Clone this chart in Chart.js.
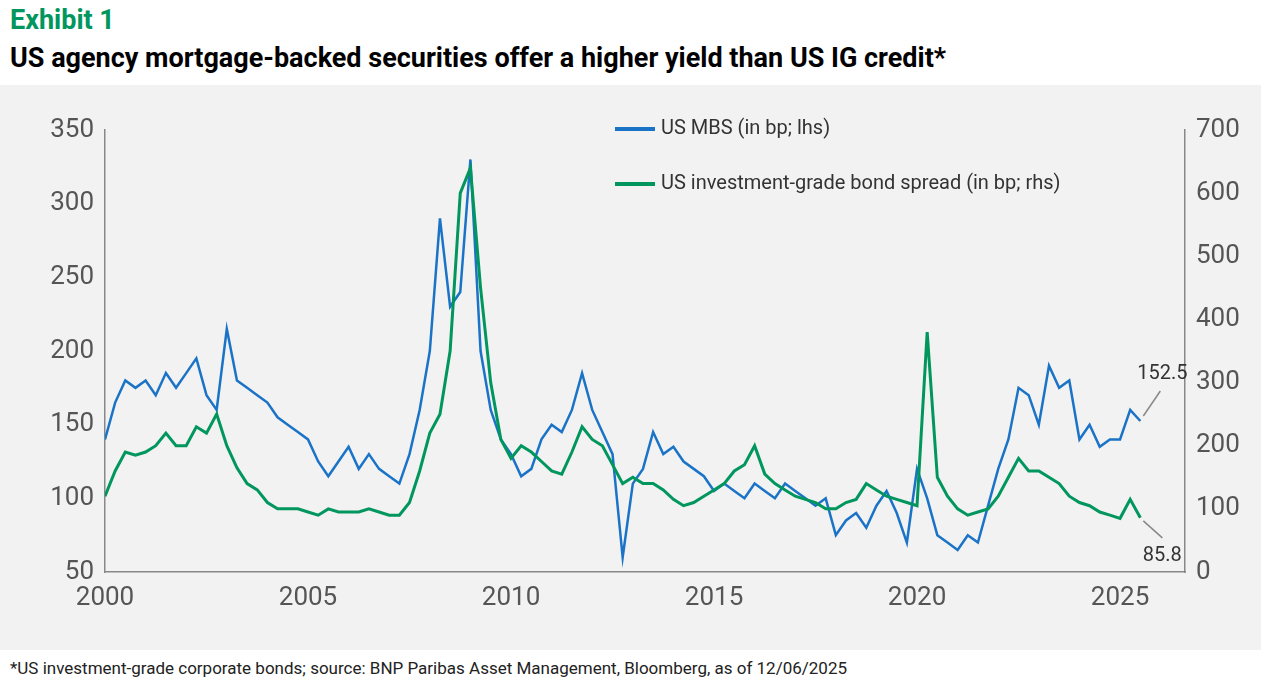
<!DOCTYPE html>
<html><head><meta charset="utf-8">
<script src="https://cdn.jsdelivr.net/npm/chart.js@4/dist/chart.umd.min.js"></script>
<style>
body{margin:0;width:1261px;height:685px;background:#fff;font-family:Roboto,"Noto Sans",sans-serif;position:relative;overflow:hidden}
#t1{position:absolute;left:10px;top:4px;font-size:27px;font-weight:bold;color:#00965e}
#t2{position:absolute;left:10px;top:42px;font-size:27px;font-weight:bold;color:#000}
#box{position:absolute;left:0;top:85px;width:1261px;height:565px;background:#f2f2f2}
#foot{position:absolute;left:10px;top:658px;font-size:17px;color:#222}
</style></head><body>
<div id="t1">Exhibit 1</div>
<div id="t2">US agency mortgage-backed securities offer a higher yield than US IG credit*</div>
<div id="box"><canvas id="c" width="1261" height="565"></canvas></div>
<div id="foot">*US investment-grade corporate bonds; source: BNP Paribas Asset Management, Bloomberg, as of 12/06/2025</div>
<script>
const startYear = 2000;
const step = 0.25;
const mbs = [140,165,180,175, 180,170,185,175, 185,195,170,160, 215,180,175,170, 165,155,150,145,
  140,125,115,125, 135,120,130,120, 115,110,130,160, 200,290,230,240, 330,200,160,140,
  130,115,120,140, 150,145,160,185, 160,145,130,60, 110,120,145,130, 135,125,120,115,
  105,110,105,100, 110,105,100,110, 105,100,95,100, 75,85,90,80, 95,105,90,70,
  120,100,75,70, 65,75,70,95, 120,140,175,170, 150,190,175,180, 140,150,135,140,
  140,160,152.5];
const igSpread = [120,160,190,185, 190,200,220,200, 200,230,220,250, 200,165,140,130, 110,100,100,100,
  95,90,100,95, 95,95,100,95, 90,90,110,160, 220,250,350,600, 640,450,300,210,
  180,200,190,175, 160,155,190,230, 210,200,170,140, 150,140,140,130, 115,105,110,120,
  130,140,160,170, 200,155,140,130, 120,115,110,100, 100,110,115,140, 130,120,115,110,
  105,380,150,120, 100,90,95,100, 120,150,180,160, 160,150,140,120, 110,105,95,90,
  85,115,85.8];
const xTicks = [2000,2005,2010,2015,2020,2025];
const seriesNames = ['US MBS (in bp; lhs)','US investment-grade bond spread (in bp; rhs)'];
const colors = ['#1a73c6','#00965e'];

const toPts = arr => arr.map((v,i) => ({x: startYear + i*step, y: v}));
const tickFont = {family:'Roboto', size:26};

const overlay = {
  id:'overlay',
  afterDraw(chart){
    const c = chart.ctx, xs = chart.scales.x;
    c.save();
    // legend
    c.font = '20px Roboto'; c.textBaseline = 'middle';
    [[625,44],[625,99]].forEach((p,i)=>{
      c.strokeStyle = colors[i]; c.lineWidth = 4;
      c.beginPath(); c.moveTo(p[0]-10,p[1]); c.lineTo(p[0]+30,p[1]); c.stroke();
      c.fillStyle = '#333'; c.fillText(seriesNames[i], p[0]+36, p[1]);
    });
    // end labels
    const lx = xs.getPixelForValue(startYear + (mbs.length-1)*step);
    const y1 = chart.scales.y.getPixelForValue(mbs[mbs.length-1]);
    const y2 = chart.scales.y1.getPixelForValue(igSpread[igSpread.length-1]);
    c.strokeStyle = '#888'; c.lineWidth = 1.5;
    c.beginPath(); c.moveTo(lx+3,y1-5); c.lineTo(lx+20,y1-30); c.stroke();
    c.beginPath(); c.moveTo(lx+3,y2+3); c.lineTo(lx+22,y2+20); c.stroke();
    c.fillStyle = '#333'; c.font = '20px Roboto'; c.textAlign = 'center';
    c.fillText(mbs[mbs.length-1].toFixed(1), lx+22, y1-47);
    c.fillText(igSpread[igSpread.length-1].toFixed(1), lx+22, y2+38);
    c.restore();
  }
};

new Chart(document.getElementById('c'), {
  type:'line',
  data:{datasets:[
    {data:toPts(igSpread), yAxisID:'y1', borderColor:colors[1], borderWidth:3, pointRadius:0, tension:0},
    {data:toPts(mbs), yAxisID:'y', borderColor:colors[0], borderWidth:2.5, pointRadius:0, tension:0}
  ]},
  options:{
    responsive:false, animation:false,
    layout:{autoPadding:false, padding:{top:45,bottom:0,left:0,right:0}},
    plugins:{legend:{display:false}, tooltip:{enabled:false}},
    scales:{
      x:{type:'linear', min:2000, max:2026.6,
        afterBuildTicks: s => { s.ticks = xTicks.map(v=>({value:v})); },
        afterFit: s => { s.height = 78; },
        grid:{display:false, drawTicks:true, tickLength:8, color:'#888'},
        border:{color:'#888', width:1.5},
        ticks:{font:tickFont, color:'#555', callback:v=>v, maxRotation:0}},
      y:{min:50, max:350, position:'left',
        afterFit: s => { s.width = 105; },
        grid:{display:false}, border:{color:'#888', width:1.5},
        ticks:{stepSize:50, font:tickFont, color:'#555'}},
      y1:{min:0, max:700, position:'right',
        afterFit: s => { s.width = 76; },
        grid:{display:false}, border:{color:'#888', width:1.5},
        ticks:{stepSize:100, font:tickFont, color:'#555'}}
    }
  },
  plugins:[overlay]
});
</script>
</body></html>
